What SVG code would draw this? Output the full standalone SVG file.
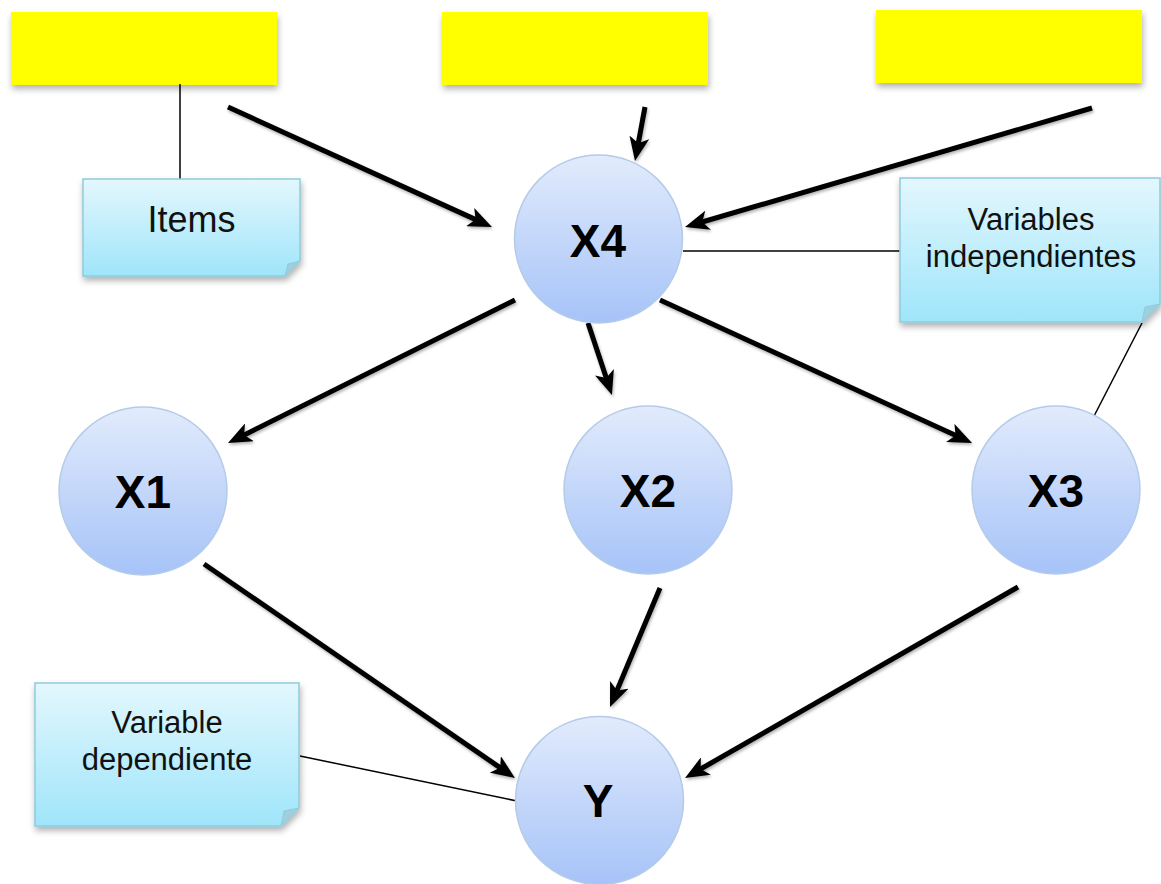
<svg xmlns="http://www.w3.org/2000/svg" width="1161" height="884" viewBox="0 0 1161 884">
<style>
.yb{fill:#ffff00;filter:url(#sh)}
.note{fill:url(#ng);stroke:#8fcbdc;stroke-width:1.5;filter:url(#sh)}
.fold{fill:#9fcfdd;stroke:#8fcbdc;stroke-width:1}
.node{fill:url(#cg);stroke:#b4cbe8;stroke-width:1.5}
.lbl{font-family:"Liberation Sans",Arial,sans-serif;font-weight:bold;font-size:46px;fill:#000;text-anchor:middle}
.nt{font-family:"Liberation Sans",Arial,sans-serif;font-size:31px;fill:#111;text-anchor:middle}
.arr{stroke:#000;stroke-width:5;fill:none;marker-end:url(#ah)}
.thin{stroke:#000;stroke-width:1.5;fill:none}
</style>
<defs>
<linearGradient id="ng" x1="0" y1="0" x2="0" y2="1"><stop offset="0" stop-color="#e3f7fd"/><stop offset="1" stop-color="#9fe5fa"/></linearGradient>
<linearGradient id="cg" x1="0" y1="0" x2="0" y2="1"><stop offset="0" stop-color="#e2ebfc"/><stop offset="1" stop-color="#a6c3f8"/></linearGradient>
<filter id="sh" x="-10%" y="-10%" width="130%" height="140%"><feDropShadow dx="1" dy="4" stdDeviation="3" flood-color="#000" flood-opacity="0.3"/></filter>
<filter id="ash" filterUnits="userSpaceOnUse" x="0" y="0" width="1161" height="884"><feDropShadow dx="1" dy="2" stdDeviation="1.5" flood-color="#000" flood-opacity="0.3"/></filter>
<marker id="ah" markerUnits="userSpaceOnUse" markerWidth="24" markerHeight="20" viewBox="0 0 24 20" refX="8" refY="10" orient="auto"><path d="M0,0 L24,10 L0,20 L6,10 Z" fill="#000"/></marker>
</defs>
<g id="box1"><rect class="yb" x="11" y="12" width="266" height="73"/></g>
<g id="box2"><rect class="yb" x="442" y="12" width="266" height="73"/></g>
<g id="box3"><rect class="yb" x="876" y="10" width="266" height="73"/></g>
<g id="connectors">
<line class="thin" x1="180" y1="84" x2="180" y2="180"/>
<line class="thin" x1="683" y1="251" x2="900" y2="251"/>
<line class="thin" x1="1142" y1="323" x2="1092" y2="420"/>
<line class="thin" x1="300" y1="756" x2="517" y2="801"/>
<g filter="url(#ash)">
<line class="arr" x1="228" y1="107" x2="477.4" y2="220.4"/>
<line class="arr" x1="645" y1="107" x2="637.9" y2="145.3"/>
<line class="arr" x1="1092" y1="108" x2="700.4" y2="222.5"/>
<line class="arr" x1="515" y1="300" x2="242.3" y2="435.9"/>
<line class="arr" x1="588" y1="323" x2="606.9" y2="379.8"/>
<line class="arr" x1="660" y1="300" x2="957.5" y2="436.3"/>
<line class="arr" x1="204" y1="564" x2="501.8" y2="768.9"/>
<line class="arr" x1="660" y1="588" x2="616.2" y2="692.3"/>
<line class="arr" x1="1018" y1="587" x2="698.9" y2="770"/>
</g>
</g>
<g id="note-items">
<path class="note" d="M83,179 H300 V261 L285,276 H83 Z"/>
<path class="fold" d="M300,261 L285,276 L288,264 Z"/>
<text class="nt" x="191.5" y="232" style="font-size:36px">Items</text>
</g>
<g id="note-indep">
<path class="note" d="M900,178 H1160 V304 L1142,322 H900 Z"/>
<path class="fold" d="M1160,304 L1142,322 L1145,307 Z"/>
<text class="nt" x="1031" y="230">Variables</text>
<text class="nt" x="1031" y="267">independientes</text>
</g>
<g id="note-dep">
<path class="note" d="M35,683 H299 V808 L281,826 H35 Z"/>
<path class="fold" d="M299,808 L281,826 L284,811 Z"/>
<text class="nt" x="167" y="733">Variable</text>
<text class="nt" x="167" y="770">dependiente</text>
</g>
<g id="X4"><circle class="node" cx="598.5" cy="239" r="84"/><text class="lbl" x="598" y="257">X4</text></g>
<g id="X1"><circle class="node" cx="143" cy="491" r="84"/><text class="lbl" x="143" y="508">X1</text></g>
<g id="X2"><circle class="node" cx="648" cy="490" r="84"/><text class="lbl" x="648" y="507">X2</text></g>
<g id="X3"><circle class="node" cx="1056" cy="490" r="84"/><text class="lbl" x="1056" y="507">X3</text></g>
<g id="Y"><circle class="node" cx="599.5" cy="800.5" r="84"/><text class="lbl" x="598" y="817">Y</text></g>
</svg>
